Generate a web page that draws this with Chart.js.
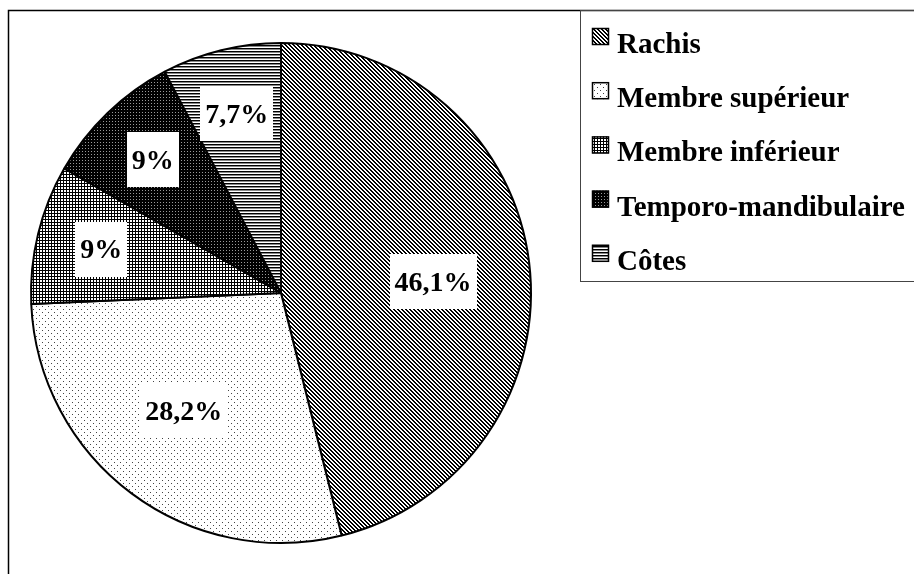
<!DOCTYPE html>
<html>
<head>
<meta charset="utf-8">
<script src="https://cdn.jsdelivr.net/npm/chart.js@4/dist/chart.umd.min.js"></script>
<style>
  html, body { margin: 0; padding: 0; background: #fff; }
  #wrap { width: 914px; height: 574px; }
</style>
</head>
<body>
<div id="wrap"><canvas id="pie" width="914" height="574"></canvas></div>
<script>
const categories = ['Rachis', 'Membre supérieur', 'Membre inférieur', 'Temporo-mandibulaire', 'Côtes'];
const percentages = [46.1, 28.2, 9, 9, 7.7];
const valueLabels = ['46,1%', '28,2%', '9%', '9%', '7,7%'];

const FONT = 'bold 29px "Liberation Serif", "Times New Roman", serif';
const LABEL_FONT = 'bold 28px "Liberation Serif", "Times New Roman", serif';

const canvas = document.getElementById('pie');
const ctx = canvas.getContext('2d');

// small bitmap tiles used as fills
function tile(w, h, draw) {
  const c = document.createElement('canvas');
  c.width = w;
  c.height = h;
  const g = c.getContext('2d');
  g.fillStyle = '#fff';
  g.fillRect(0, 0, w, h);
  draw(g);
  return ctx.createPattern(c, 'repeat');
}

const fills = [
  // diagonal hatch
  tile(4, 4, g => {
    g.fillStyle = '#000';
    for (let y = 0; y < 4; y++) {
      g.fillRect(y, y, 1, 1);
      g.fillRect((y + 1) % 4, y, 1, 1);
    }
  }),
  // sparse dots
  tile(6, 6, g => {
    g.fillStyle = '#444';
    g.fillRect(0, 0, 1, 1);
    g.fillRect(3, 3, 1, 1);
  }),
  // fine grid
  tile(3, 3, g => {
    g.fillStyle = '#000';
    g.fillRect(0, 0, 3, 1);
    g.fillRect(0, 0, 1, 3);
  }),
  // black with light dots
  tile(3, 3, g => {
    g.fillStyle = '#000';
    g.fillRect(0, 0, 3, 3);
    g.fillStyle = '#999';
    g.fillRect(1, 1, 1, 1);
  }),
  // horizontal stripes
  tile(3, 3, g => {
    g.fillStyle = '#000';
    g.fillRect(0, 0, 3, 1);
    g.fillStyle = '#888';
    g.fillRect(0, 1, 3, 1);
  })
];

const framePlugin = {
  id: 'frame',
  beforeDraw(chart) {
    const c = chart.ctx;
    c.save();
    c.fillStyle = '#fff';
    c.fillRect(0, 0, chart.width, chart.height);
    c.strokeStyle = '#000';
    c.lineWidth = 1.5;
    c.strokeRect(8.5, 10.5, 1200, 1200);
    c.restore();
  }
};

const sliceLabels = {
  id: 'sliceLabels',
  afterDatasetsDraw(chart) {
    const c = chart.ctx;
    const meta = chart.getDatasetMeta(0);
    c.save();
    c.font = LABEL_FONT;
    c.textAlign = 'center';
    c.textBaseline = 'middle';
    meta.data.forEach((arc, i) => {
      const p = arc.getProps(['x', 'y', 'startAngle', 'endAngle', 'outerRadius'], true);
      // big slices keep their label nearer the centre
      const big = percentages[i] > 20;
      const mid = (p.startAngle + p.endAngle) / 2 + (big ? 0.05 : 0);
      const k = big ? 0.61 : 0.74;
      const x = p.x + Math.cos(mid) * p.outerRadius * k;
      const y = p.y + Math.sin(mid) * p.outerRadius * k;
      const w = c.measureText(valueLabels[i]).width + 10;
      const h = 55;
      c.fillStyle = '#fff';
      c.fillRect(Math.round(x - w / 2), Math.round(y - h / 2), Math.round(w), h);
      c.fillStyle = '#000';
      c.fillText(valueLabels[i], x, y + 2);
    });
    c.restore();
  }
};

const boxLegend = {
  id: 'boxLegend',
  afterDraw(chart) {
    const c = chart.ctx;
    c.save();
    c.strokeStyle = '#444';
    c.lineWidth = 1;
    c.strokeRect(580.5, 10.5, 400, 271);
    c.font = FONT;
    c.textBaseline = 'alphabetic';
    c.textAlign = 'left';
    categories.forEach((name, i) => {
      const base = 53 + i * 54.2;
      c.fillStyle = fills[i];
      c.fillRect(592, base - 25, 17, 17);
      c.strokeStyle = '#000';
      c.lineWidth = 1.5;
      c.strokeRect(592.5, base - 24.5, 16, 16);
      c.fillStyle = '#000';
      c.fillText(name, 617, base);
    });
    c.restore();
  }
};

new Chart(ctx, {
  type: 'pie',
  data: {
    labels: categories,
    datasets: [{
      data: percentages,
      backgroundColor: fills,
      borderColor: '#000',
      borderWidth: 2
    }]
  },
  options: {
    responsive: false,
    animation: false,
    events: [],
    layout: { padding: { left: 30, top: 42, right: 382, bottom: 30 } },
    plugins: {
      legend: { display: false },
      tooltip: { enabled: false }
    }
  },
  plugins: [framePlugin, sliceLabels, boxLegend]
});
</script>
</body>
</html>
